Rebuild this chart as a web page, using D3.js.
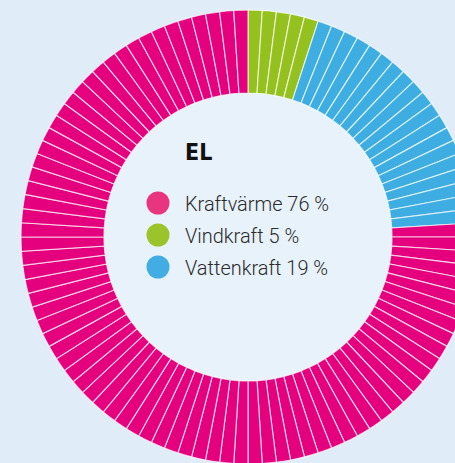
<!DOCTYPE html>
<html>
<head>
<meta charset="utf-8">
<script src="https://cdn.jsdelivr.net/npm/d3@7"></script>
<style>
  html, body { margin: 0; padding: 0; background: #e0edf8; overflow: hidden; }
  svg { display: block; }
</style>
</head>
<body>
<svg id="donut" width="455" height="463"></svg>
<script>
// data
const title = "EL";
const legendNames = ["Kraftvärme", "Vindkraft", "Vattenkraft"];
const legendValues = [76, 5, 19];
const legendColors = ["#e5007d", "#95c11f", "#3eade2"];
const dotColors = ["#e93580", "#9bc42a", "#41ade3"];
// clockwise order from 12 o'clock
const ringOrder = ["Vindkraft", "Vattenkraft", "Kraftvärme"];

const svg = d3.select("#donut"),
    width = +svg.attr("width"),
    height = +svg.attr("height"),
    cx = 248,
    cy = 237,
    outerR = 227,
    innerR = 144;

const color = d3.scaleOrdinal()
    .domain(legendNames)
    .range(legendColors);

// one slice per percent
const units = [];
ringOrder.forEach(name => {
    const v = legendValues[legendNames.indexOf(name)];
    for (let i = 0; i < v; i++) units.push({ name: name });
});

const pie = d3.pie().value(1).sort(null);
const arc = d3.arc().innerRadius(innerR).outerRadius(outerR);

const ring = svg.append("g")
    .attr("transform", `translate(${cx},${cy})`);

// inner disc
ring.append("circle")
    .attr("r", innerR)
    .attr("fill", "#e8f2fb");

ring.selectAll("path")
    .data(pie(units))
    .join("path")
    .attr("d", arc)
    .attr("fill", d => color(d.data.name))
    .attr("stroke", "#ffffff")
    .attr("stroke-opacity", 0.7)
    .attr("stroke-width", 1.2);

// title
svg.append("text")
    .attr("x", 185)
    .attr("y", 160)
    .text(title)
    .style("font-family", "'DejaVu Sans Condensed', 'DejaVu Sans'")
    .style("font-weight", "bold")
    .style("font-size", "23px")
    .style("fill", "#111111");

// legend
const legend = svg.append("g")
    .attr("transform", "translate(158, 203)");

legendNames.forEach((key, i) => {
    const g = legend.append("g")
        .attr("transform", `translate(0, ${i * 32})`);

    g.append("circle")
        .attr("r", 11.5)
        .attr("fill", dotColors[i]);

    g.append("text")
        .attr("transform", "translate(27, 8) scale(0.95, 1)")
        .text(`${key} ${legendValues[i]} %`)
        .style("font-family", "Roboto")
        .style("font-weight", 300)
        .style("font-size", "21px")
        .style("fill", "#2b2b2b");
});
</script>
</body>
</html>
